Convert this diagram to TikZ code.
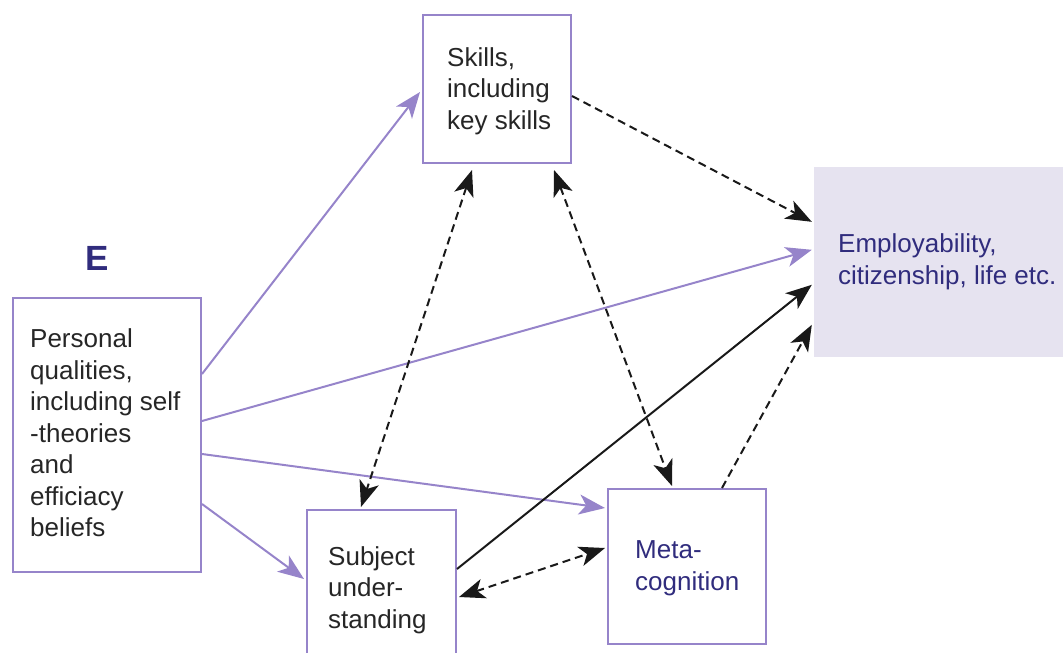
\documentclass[tikz,border=0pt]{standalone}
\usepackage{fontspec}
\setmainfont{Liberation Sans}
\usetikzlibrary{arrows.meta,calc}
\definecolor{boxline}{RGB}{150,132,202}
\definecolor{empfill}{RGB}{230,227,240}
\definecolor{navytext}{RGB}{48,44,125}
\tikzset{
  box/.style={draw=boxline, line width=2pt, inner sep=0pt},
  txt/.style={font=\fontsize{26}{31.5}\selectfont, align=left, inner sep=0pt, anchor=west, text=black!85},
  headtip/.tip={Stealth[length=26pt,width=20pt,inset=7pt]},
  tipstyle/.style={-headtip},
  bothtips/.style={headtip-headtip},
  purplelink/.style={tipstyle, draw=boxline, line width=2pt},
  solidlink/.style={tipstyle, draw=black!90, line width=2pt},
  dashlink/.style={tipstyle, draw=black!90, line width=2pt, dash pattern=on 8pt off 5pt},
  dashboth/.style={bothtips, draw=black!90, line width=2pt, dash pattern=on 8pt off 5pt},
}
\begin{document}
\begin{tikzpicture}[x=1pt,y=-1pt]
  \useasboundingbox (0,0) rectangle (1063,653);
  \clip (0,0) rectangle (1063,653);

  % boxes
  \node[box, minimum width=148pt, minimum height=148pt] (skills) at (497,89) {};
  \node[fill=empfill, inner sep=0pt, minimum width=256pt, minimum height=190pt] (emp) at (942,262) {};
  \node[box, minimum width=188pt, minimum height=274pt] (personal) at (107,435) {};
  \node[box, minimum width=149pt, minimum height=180pt] (subject) at (381.5,600) {};
  \node[box, minimum width=158pt, minimum height=155pt] (meta) at (687,566.5) {};

  % texts
  \node[txt] (skillstxt) at (447,91) {Skills,\\including\\key skills};
  \node[txt, text=navytext] (emptxt) at (838,262) {Employability,\\citizenship, life etc.};
  \node[txt] (personaltxt) at (30,433) {Personal\\qualities,\\including self\\-theories\\and\\efficiacy\\beliefs};
  \node[txt] (subjecttxt) at (328,590) {Subject\\under-\\standing};
  \node[txt, text=navytext] (metatxt) at (635,568) {Meta-\\cognition};
  \node[font=\fontsize{35}{40}\selectfont\bfseries, text=navytext, inner sep=0pt] (elabel) at (97,258) {E};

  % links from personal qualities
  \draw[purplelink] ($(personal.north east)+(0,77)$) -- ($(skills.north west)+(-2,78)$);
  \draw[purplelink] ($(personal.north east)+(0,124)$) -- ($(emp.north west)+(-2,83)$);
  \draw[purplelink] ($(personal.north east)+(0,157)$) -- ($(meta.north west)+(-2,20)$);
  \draw[purplelink] ($(personal.north east)+(0,207)$) -- ($(subject.north west)+(-2,70)$);

  % links between the other boxes
  \draw[dashlink] ($(skills.north east)+(0,82)$) -- ($(emp.north west)+(-2,55)$);
  \draw[dashboth] ($(skills.south west)+(50,6)$) -- ($(subject.north west)+(55,-2)$);
  \draw[dashboth] ($(skills.south west)+(132,6)$) -- ($(meta.north west)+(65,-2)$);
  \draw[solidlink] ($(subject.north east)+(0,60)$) -- ($(emp.north west)+(-2,118)$);
  \draw[dashboth] ($(subject.north east)+(2,88)$) -- ($(meta.north west)+(-2,60)$);
  \draw[dashlink] ($(meta.north west)+(115,0)$) -- ($(emp.north west)+(-2,158)$);
\end{tikzpicture}
\end{document}
